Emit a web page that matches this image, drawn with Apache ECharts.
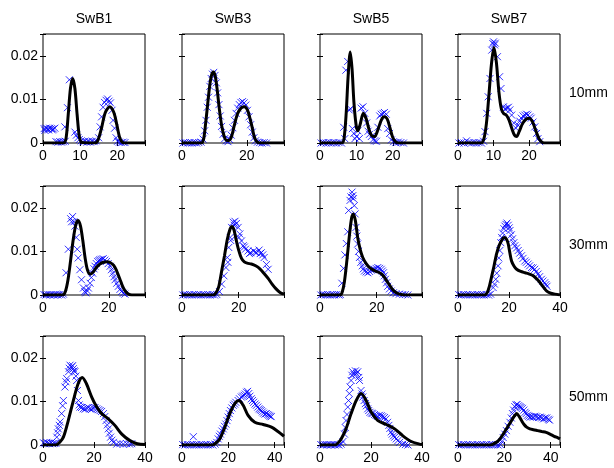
<!DOCTYPE html>
<html><head><meta charset="utf-8">
<script src="https://cdn.jsdelivr.net/npm/echarts@6/dist/echarts.min.js"></script>
<style>html,body{margin:0;padding:0;background:#fff}#c{width:614px;height:468px}</style>
</head><body><div id="c"></div>
<script>
// ---- categories / ticks ----
const columns = ['SwB1', 'SwB3', 'SwB5', 'SwB7'];
const rows = ['10mm', '30mm', '50mm'];
const yMax = 0.025, yStep = 0.01;
const xMax = [[27.5, 31.5, 28, 28.7], [31, 36, 36, 40], [40, 44, 40, 44]];
const xStep = [[10, 20, 10, 10], [20, 20, 20, 20], [20, 20, 20, 20]];

// ---- 10mm ----
const fit_10_B1 = [[0,0],[5.5,0],[6.2,0.001],[6.8,0.0065],[7.4,0.0125],[8.0,0.0148],[8.6,0.0125],[9.2,0.0065],[9.8,0.0015],[10.5,0.0001],[14,0],[14.8,0.0006],[15.8,0.0035],[16.8,0.007],[18,0.0083],[19.1,0.007],[19.9,0.0042],[20.7,0.0012],[21.5,0.0001],[22.5,0],[27.5,0]];
const obs_10_B1 = [[0.3,0.0033],[0.8,0.0034],[1.3,0.0032],[1.8,0.0034],[2.3,0.0033],[2.8,0.0032],[3.2,0.0034],[0.5,0.0029],[1.5,0.003],[2.5,0.003],[3.5,0.0003],[4,0.0002],[4.5,0.0003],[5,0.0002],[5.5,0.0003],[6,0.0004],[5.9,0.0037],[6.6,0.0081],[7.1,0.0145],[8.6,0.0025],[9.0,0.0018],[9.4,0.0012],[9.8,0.0008],[10.3,0.0005],[10.8,0.0003],[11.3,0.0004],[11.8,0.0002],[12.3,0.0003],[12.8,0.0002],[13.3,0.0004],[13.8,0.0003],[14.3,0.0005],[15.0,0.0012],[15.4,0.0037],[15.8,0.006],[16.2,0.0082],[16.6,0.0093],[17.0,0.0098],[17.4,0.0101],[17.8,0.0096],[18.2,0.0092],[18.6,0.0075],[18.9,0.0052],[19.3,0.0034],[19.7,0.0012],[20.1,0.0004],[20.6,0.0002],[21.1,0.0001],[21.6,0.0002],[22.1,0.0001]];

const fit_10_B3 = [[0,0],[6,0],[6.7,0.001],[7.3,0.0045],[7.8,0.008],[8.5,0.0128],[9.1,0.0155],[9.7,0.0163],[10.3,0.0152],[10.9,0.012],[11.5,0.008],[12.2,0.0042],[13,0.0016],[13.8,0.0006],[14.5,0.0006],[15.3,0.0015],[16.2,0.0042],[17.1,0.0066],[18.2,0.008],[19.2,0.0083],[20.2,0.0076],[21.0,0.0056],[21.6,0.0038],[22.3,0.0015],[23,0.0004],[24,0],[31.5,0]];
const obs_10_B3 = [[0.3,0],[1,0.0001],[1.7,0],[2.4,0.0001],[3.1,0],[3.8,0.0001],[4.5,0],[5.2,0.0001],[5.9,0.0002],[6.5,0.0009],[7.0,0.0028],[7.4,0.0052],[7.8,0.0082],[8.2,0.0105],[8.6,0.013],[9.0,0.0148],[9.4,0.0158],[9.8,0.0162],[10.2,0.0155],[10.6,0.0138],[11.0,0.0115],[11.4,0.0088],[11.8,0.0062],[12.2,0.0038],[12.7,0.002],[13.2,0.001],[13.7,0.0005],[14.2,0.0003],[14.7,0.0008],[15.2,0.0018],[15.7,0.0035],[16.2,0.0052],[16.7,0.0068],[17.2,0.008],[17.7,0.0088],[18.2,0.0093],[18.7,0.0095],[19.2,0.0092],[19.7,0.0087],[20.2,0.0075],[20.7,0.006],[21.2,0.0042],[21.7,0.0025],[22.2,0.0012],[22.7,0.0005],[23.3,0.0002],[24,0.0001],[24.7,0],[25.4,0.0001],[26.1,0]];

const fit_10_B5 = [[0,0],[6,0],[6.6,0.001],[7.2,0.007],[7.7,0.015],[8.3,0.0209],[8.8,0.017],[9.3,0.0095],[9.9,0.0042],[10.4,0.0028],[11.0,0.0042],[11.9,0.0068],[12.7,0.0055],[13.5,0.003],[14.3,0.0016],[15.0,0.0015],[15.8,0.0028],[16.8,0.0052],[17.6,0.006],[18.4,0.0056],[19.2,0.0035],[20.0,0.0012],[20.8,0.0002],[21.5,0],[28,0]];
const obs_10_B5 = [[0.3,0],[1,0.0001],[1.7,0],[2.4,0.0001],[3.1,0],[3.8,0.0001],[4.5,0],[5.2,0.0001],[5.9,0],[6.5,0.0036],[6.8,0.001],[7.1,0.0167],[7.6,0.0187],[8.0,0.0076],[8.4,0.0078],[8.9,0.0033],[9.3,0.0022],[9.6,0.001],[10.0,0.0015],[10.4,0.0028],[10.8,0.001],[11.3,0.008],[11.8,0.0083],[12.3,0.0068],[12.8,0.0046],[13.2,0.0027],[13.6,0.002],[14.1,0.0015],[14.6,0.0008],[15.0,0.0005],[15.5,0.0004],[15.9,0.0036],[16.4,0.0062],[16.8,0.0066],[17.3,0.0068],[17.7,0.007],[18.2,0.0066],[18.6,0.0033],[19.1,0.0022],[19.6,0.0007],[20.2,0.0003],[20.8,0.0001],[21.5,0.0002],[22.2,0.0001],[22.9,0]];

const fit_10_B7 = [[0,0],[6.5,0],[7.3,0.001],[8.0,0.0045],[8.7,0.011],[9.4,0.018],[10.1,0.0219],[10.8,0.0185],[11.5,0.0118],[12.2,0.0078],[12.9,0.0067],[13.6,0.0064],[14.4,0.0052],[15.2,0.0032],[15.9,0.0018],[16.5,0.0015],[17.2,0.0026],[18.2,0.0045],[19.2,0.0055],[20.1,0.0057],[21.0,0.0048],[21.9,0.0028],[22.8,0.001],[23.8,0.0001],[25,0],[28.7,0]];
const obs_10_B7 = [[0.3,0],[1,0.0001],[1.7,0],[2.4,0.0005],[3.1,0.0001],[3.8,0],[4.5,0.0001],[5.2,0],[5.9,0.0001],[6.6,0],[7.2,0.0004],[7.6,0.0026],[8.1,0.0068],[8.5,0.0106],[9.0,0.0148],[9.5,0.0213],[9.8,0.0228],[10.0,0.0232],[10.3,0.0225],[10.5,0.0229],[11.1,0.0198],[11.7,0.0152],[12.1,0.0125],[12.8,0.0083],[13.2,0.0078],[13.7,0.008],[14.2,0.0082],[14.6,0.0076],[15.1,0.0064],[15.7,0.0046],[16.3,0.0034],[16.9,0.0041],[17.4,0.005],[17.8,0.0057],[18.3,0.0062],[18.8,0.0064],[19.3,0.0066],[19.7,0.0064],[20.2,0.006],[20.6,0.0057],[21.1,0.0048],[21.6,0.0037],[22.1,0.0022],[22.5,0.001],[23,0.0003]];

// ---- 30mm ----
const fit_30_B1 = [[0,0],[6,0],[6.8,0.0008],[7.6,0.0035],[8.4,0.008],[9.2,0.0128],[10,0.0162],[10.7,0.0171],[11.4,0.0158],[12.1,0.0125],[12.8,0.0085],[13.5,0.0058],[14.3,0.0048],[15.2,0.0052],[16.2,0.0063],[17.3,0.0071],[18.4,0.0075],[19.4,0.0076],[20.5,0.0074],[21.5,0.0068],[22.4,0.0055],[23.3,0.0038],[24.2,0.002],[25.1,0.0008],[26,0.0002],[27,0],[31,0]];
const obs_30_B1 = [[0.3,0.0001],[0.9,0],[1.5,0.0001],[2.1,0],[2.7,0.0001],[3.3,0],[3.9,0.0001],[4.5,0],[5.1,0.0001],[5.7,0],[6.2,0.0002],[7.0,0.0051],[7.7,0.0105],[8.4,0.0175],[8.7,0.0168],[9.0,0.018],[9.4,0.0168],[9.7,0.0158],[10.1,0.0132],[10.4,0.0105],[10.7,0.0085],[11.2,0.0058],[11.7,0.0035],[12.3,0.0016],[12.7,0.0008],[13.0,0.0005],[13.4,0.001],[13.8,0.0016],[14.3,0.0027],[14.7,0.004],[15.1,0.005],[15.5,0.006],[15.8,0.0066],[16.2,0.0072],[16.6,0.0077],[17.0,0.0079],[17.3,0.0081],[17.8,0.0082],[18.3,0.0083],[18.8,0.008],[19.3,0.0077],[19.8,0.0072],[20.4,0.0066],[20.8,0.0058],[21.2,0.005],[21.6,0.0042],[21.9,0.0035],[22.4,0.0027],[22.9,0.002],[23.4,0.0013],[23.9,0.0008],[24.4,0.0004],[24.9,0.0002]];

const fit_30_B3 = [[0,0],[11,0],[12,0.0005],[13,0.002],[14,0.0055],[15,0.009],[16,0.0128],[17,0.0152],[17.6,0.0157],[18.3,0.015],[19,0.013],[20,0.0103],[21,0.0084],[22,0.0076],[23,0.0073],[24.5,0.0071],[26,0.0067],[27.5,0.006],[29,0.0049],[30.4,0.0038],[31.8,0.0025],[33.2,0.0014],[34.6,0.0006],[36,0.0002]];
const obs_30_B3 = [[0.3,0],[1.1,0.0001],[1.9,0],[2.7,0.0001],[3.5,0],[4.3,0.0001],[5.1,0],[5.9,0.0001],[6.7,0],[7.5,0.0001],[8.3,0],[9.1,0.0001],[9.9,0],[10.7,0.0001],[11.5,0],[12.3,0.0001],[13.2,0.0008],[14,0.0025],[14.8,0.0044],[15.5,0.0063],[16.0,0.0086],[16.2,0.0075],[16.5,0.0109],[17,0.0132],[17.2,0.0125],[17.5,0.0155],[18.1,0.0167],[18.4,0.016],[18.7,0.0169],[19.2,0.0164],[19.8,0.0155],[20.1,0.0132],[20.4,0.014],[21.0,0.0124],[21.6,0.0113],[22,0.011],[22.4,0.0105],[23.3,0.0101],[23.8,0.0095],[24.3,0.0097],[25.3,0.0101],[25.8,0.0098],[26.3,0.0097],[27.2,0.0103],[27.6,0.0095],[28,0.0097],[28.5,0.0092],[29,0.0086],[29.8,0.007],[30.4,0.0059]];

const fit_30_B5 = [[0,0],[7,0],[7.8,0.0006],[8.6,0.003],[9.5,0.008],[10.4,0.0138],[11.2,0.0178],[11.8,0.0186],[12.5,0.017],[13.3,0.0132],[14.2,0.0104],[15.1,0.0086],[16.3,0.0072],[17.5,0.0063],[19.2,0.0056],[21,0.0051],[22.2,0.0045],[23.4,0.0034],[24.6,0.0022],[25.7,0.0012],[26.9,0.0005],[28.1,0.0002],[30,0],[36,0]];
const obs_30_B5 = [[0.3,0],[1.1,0.0001],[1.9,0],[2.7,0.0001],[3.5,0],[4.3,0.0001],[5.1,0],[5.9,0.0001],[6.7,0],[7.2,0.0001],[7.7,0.0027],[8.3,0.0061],[8.8,0.0092],[9.3,0.0118],[9.8,0.0145],[10.1,0.0194],[10.6,0.0217],[10.9,0.0225],[11.3,0.0236],[11.6,0.0228],[11.8,0.0221],[12.1,0.0205],[12.4,0.0186],[12.7,0.0155],[13.0,0.0135],[13.3,0.0117],[13.6,0.01],[13.9,0.0086],[14.4,0.0075],[14.9,0.0067],[15.3,0.006],[15.7,0.0055],[16.3,0.0053],[16.9,0.0051],[17.5,0.0054],[18.1,0.0057],[18.7,0.0058],[19.2,0.0059],[19.8,0.0061],[20.4,0.0063],[21,0.0061],[21.6,0.0059],[22,0.0055],[22.4,0.0051],[22.7,0.0044],[23.1,0.0036],[23.5,0.0028],[23.9,0.002],[24.5,0.0014],[25.1,0.0009],[25.9,0.0005],[26.8,0.0003],[28,0.0002],[29.2,0.0001],[30.1,0.0001],[31,0]];

const fit_30_B7 = [[0,0],[10.5,0],[11.5,0.0006],[12.3,0.002],[13.1,0.004],[14.1,0.0066],[15.1,0.0094],[16.1,0.0113],[17.1,0.0125],[17.8,0.0131],[18.4,0.0132],[19.1,0.0127],[19.7,0.0117],[20.3,0.0098],[21,0.0078],[22,0.0066],[23,0.0059],[24.6,0.0054],[26.3,0.0051],[28,0.0048],[29.5,0.0044],[31,0.0036],[32.2,0.0028],[33.5,0.0018],[34.8,0.0009],[36.4,0.0004],[38,0.0002],[40,0]];
const obs_30_B7 = [[0.3,0.0001],[1.2,0],[2.1,0.0001],[3,0],[3.9,0.0001],[4.8,0],[5.7,0.0001],[6.6,0],[7.5,0.0001],[8.4,0],[9.3,0.0001],[10.2,0],[11.1,0.0001],[12,0],[12.8,0.0002],[13.8,0.0017],[14.3,0.0025],[14.8,0.0036],[15.2,0.005],[15.7,0.0067],[16.0,0.0085],[16.4,0.0102],[16.8,0.012],[17.1,0.0132],[17.5,0.0142],[18,0.0152],[18.4,0.0158],[18.8,0.0162],[19.2,0.0165],[19.7,0.016],[20.1,0.0154],[20.4,0.0148],[20.9,0.0138],[21.4,0.0129],[21.9,0.012],[22.3,0.0113],[23,0.0108],[23.6,0.0102],[24.2,0.0096],[24.9,0.009],[25.5,0.0084],[26.2,0.0078],[26.8,0.0075],[27.5,0.0071],[28.1,0.0067],[28.8,0.0063],[29.4,0.0062],[30.1,0.0059],[30.7,0.0054],[31.4,0.0048],[32.0,0.0042],[32.7,0.0036],[33.3,0.0032],[34,0.0028],[34.5,0.0024],[34.9,0.002]];

// ---- 50mm ----
const fit_50_B1 = [[0,0],[5,0],[6.5,0.0006],[8,0.0018],[9.9,0.0056],[11.9,0.0102],[13.8,0.0141],[15.4,0.0155],[17,0.0141],[19.1,0.011],[21.1,0.0087],[23,0.0072],[25.6,0.006],[28.2,0.0045],[30.9,0.0025],[34.1,0.001],[37,0.0003],[40,0.0001]];
const obs_50_B1 = [[0.2,0.0005],[0.8,0.0003],[1.4,0.0006],[2,0.0004],[2.6,0.0003],[3.2,0.0005],[3.8,0.0003],[4.4,0.0004],[5,0.0004],[5.4,0.0018],[5.7,0.0028],[6,0.0037],[6.4,0.0045],[6.7,0.0053],[7.3,0.0072],[7.7,0.009],[8.0,0.0102],[8.6,0.0133],[9.0,0.0145],[9.3,0.0152],[10.0,0.0168],[10.3,0.0176],[10.6,0.0183],[11.2,0.0179],[11.6,0.0182],[11.9,0.0175],[12.2,0.017],[12.5,0.0168],[12.9,0.0158],[13.2,0.0148],[13.5,0.0125],[13.9,0.0102],[14.2,0.0092],[14.5,0.0087],[15.1,0.0086],[15.8,0.0083],[16.5,0.0082],[17.1,0.0085],[17.8,0.0086],[18.4,0.0083],[19.1,0.0082],[19.7,0.0085],[20.4,0.0086],[21.1,0.0083],[21.8,0.0081],[22.4,0.0079],[23,0.0077],[23.7,0.0072],[24.2,0.0065],[24.7,0.0056],[25.2,0.0046],[25.6,0.0037],[26,0.0027],[26.5,0.0018],[27,0.0011],[27.6,0.0006],[28.9,0.0002],[30.2,0.0003],[31.5,0.0002],[32.8,0.0003],[34,0.0002],[34.8,0.0003]];

const fit_50_B3 = [[0,0],[13,0],[14.5,0.0004],[16.3,0.0014],[18.5,0.0041],[20.6,0.0072],[22.8,0.0095],[24.6,0.0102],[26.4,0.0091],[28.5,0.0068],[31.4,0.0052],[35,0.0047],[38.6,0.0041],[41.4,0.0031],[44,0.002]];
const obs_50_B3 = [[0.3,0.0001],[1.3,0],[2.3,0.0001],[3.3,0],[4.3,0.0001],[4.9,0.0019],[5.3,0],[6.3,0.0001],[7.3,0],[8.3,0.0001],[9.3,0],[10.3,0.0001],[11.3,0],[12.3,0.0001],[13.3,0],[14.3,0.0002],[15,0.0006],[15.6,0.0014],[16.1,0.002],[16.6,0.0025],[17.2,0.0032],[17.8,0.0037],[18.3,0.0043],[18.9,0.0048],[19.4,0.0056],[19.9,0.0064],[20.4,0.0072],[20.9,0.0079],[21.5,0.0085],[22.1,0.0091],[22.7,0.0094],[23.2,0.0098],[24.2,0.0102],[24.8,0.0106],[25.6,0.011],[26.2,0.0112],[26.8,0.0114],[27.3,0.0117],[27.8,0.0121],[28.3,0.0123],[28.8,0.0118],[29.3,0.0112],[29.9,0.0106],[30.4,0.0102],[30.9,0.0098],[31.5,0.0094],[32.1,0.0091],[32.7,0.0087],[33.2,0.0083],[33.7,0.0081],[34.2,0.0079],[34.7,0.0076],[35.2,0.0073],[35.8,0.0071],[36.4,0.0072],[37,0.007],[37.5,0.0068],[38,0.0066],[38.5,0.0065]];

const fit_50_B5 = [[0,0],[6,0],[7,0.0004],[8.3,0.0014],[10.2,0.0037],[12.2,0.0072],[14.2,0.0102],[16.1,0.0118],[18.1,0.0102],[20.1,0.0075],[22.7,0.0056],[26,0.0047],[29.3,0.0037],[32.5,0.0021],[35.8,0.0008],[39,0.0002],[40,0.0001]];
const obs_50_B5 = [[0.3,0.0001],[1.1,0],[1.9,0.0001],[2.7,0],[3.5,0.0001],[4.3,0],[5.1,0.0001],[5.9,0],[6.7,0.0001],[7.5,0],[8.3,0.0002],[9,0.0008],[9.6,0.0025],[9.9,0.004],[10.2,0.0056],[10.6,0.007],[10.9,0.0087],[11.2,0.0102],[11.5,0.0118],[11.8,0.0133],[12.2,0.0148],[12.5,0.016],[12.8,0.0168],[13.3,0.0162],[13.9,0.017],[14.3,0.0164],[14.8,0.0168],[15.2,0.0155],[15.5,0.0148],[16.1,0.0125],[16.5,0.0117],[16.8,0.011],[17.3,0.0102],[17.8,0.0095],[18.2,0.009],[18.7,0.0083],[19.1,0.0079],[19.6,0.0075],[20.2,0.0073],[20.7,0.0072],[21.4,0.007],[22,0.0068],[22.6,0.0066],[23.3,0.0068],[24,0.0067],[24.6,0.0065],[25.3,0.0063],[25.9,0.006],[26.5,0.0052],[27,0.0045],[27.4,0.0038],[27.9,0.003],[28.3,0.0025],[28.8,0.0021],[29.3,0.0018],[29.9,0.0014],[30.5,0.001],[31.2,0.0006],[32.5,0.0002],[33.5,0.0001],[34.5,0]];

const fit_50_B7 = [[0,0],[14,0],[15.5,0.0003],[17,0.0008],[18.1,0.0014],[19.5,0.0025],[20.9,0.0037],[23.1,0.0056],[24.3,0.0066],[25.3,0.0072],[26.3,0.0066],[27.4,0.0056],[28.5,0.0047],[29.6,0.0041],[31,0.0037],[32.5,0.0035],[34.3,0.0033],[36.1,0.0031],[38,0.0029],[39.7,0.0025],[41.5,0.002],[43.3,0.0016],[44,0.0014]];
const obs_50_B7 = [[0.3,0.0001],[1.3,0],[2.3,0.0001],[3.3,0],[4.3,0.0001],[5.3,0],[6.3,0.0001],[7.3,0],[8.3,0.0001],[9.3,0],[10.3,0.0001],[11.3,0],[12.3,0.0001],[13.3,0],[14.3,0.0001],[15.3,0],[16.3,0.0001],[17.3,0],[18.3,0.0001],[18.9,0.0008],[19.5,0.0017],[20.2,0.0025],[20.9,0.0033],[21.6,0.0043],[22.4,0.0052],[23,0.0062],[23.5,0.0072],[24,0.008],[24.5,0.0088],[25,0.0092],[25.5,0.0093],[26.1,0.009],[26.7,0.0088],[27.2,0.0086],[27.8,0.0084],[28.4,0.008],[28.9,0.0075],[29.4,0.0072],[29.9,0.0068],[30.5,0.0066],[31.1,0.0064],[31.8,0.0065],[32.5,0.0064],[33.2,0.0066],[34,0.0065],[34.7,0.0063],[35.4,0.0064],[36.1,0.0062],[36.9,0.006],[37.6,0.0062],[38.3,0.0062],[39,0.0059],[39.5,0.0057]];

const fits = [[fit_10_B1, fit_10_B3, fit_10_B5, fit_10_B7],[fit_30_B1, fit_30_B3, fit_30_B5, fit_30_B7],[fit_50_B1, fit_50_B3, fit_50_B5, fit_50_B7]];
const obs = [[obs_10_B1, obs_10_B3, obs_10_B5, obs_10_B7],[obs_30_B1, obs_30_B3, obs_30_B5, obs_30_B7],[obs_50_B1, obs_50_B3, obs_50_B5, obs_50_B7]];

// ---- layout ----
const LEFTS = [43, 182, 320, 458];
const TOPS = [34, 186, 336];
const W = 102, H = 109;
const FONT = 'Liberation Sans';

function fmt(step) {
  return function (v) {
    const r = v / step;
    if (Math.abs(r - Math.round(r)) > 1e-6) return '';
    return String(+v.toFixed(4));
  };
}

const grid = [], xAxis = [], yAxis = [], series = [], graphic = [];
const tick = { inside: true, length: 3, lineStyle: { color: '#000', width: 1 } };
rows.forEach(function (rname, r) {
  columns.forEach(function (cname, c) {
    const gi = grid.length;
    grid.push({ left: LEFTS[c], top: TOPS[r], width: W, height: H, show: true, borderColor: '#000', borderWidth: 1, backgroundColor: '#fff' });
    const xb = xAxis.length;
    xAxis.push({ gridIndex: gi, type: 'value', min: 0, max: xMax[r][c], interval: xStep[r][c], position: 'bottom',
      axisLine: { show: false }, splitLine: { show: false }, axisTick: tick,
      axisLabel: { show: true, margin: 6, color: '#000', fontFamily: FONT, fontSize: 14, formatter: fmt(xStep[r][c]), showMaxLabel: true, showMinLabel: true } });
    xAxis.push({ gridIndex: gi, type: 'value', min: 0, max: xMax[r][c], interval: xStep[r][c], position: 'top',
      axisLine: { show: false }, splitLine: { show: false }, axisTick: tick, axisLabel: { show: false } });
    const yb = yAxis.length;
    yAxis.push({ gridIndex: gi, type: 'value', min: 0, max: yMax, interval: yStep, position: 'left',
      axisLine: { show: false }, splitLine: { show: false }, axisTick: tick,
      axisLabel: { show: c === 0, margin: 5, color: '#000', fontFamily: FONT, fontSize: 14, formatter: fmt(yStep) } });
    yAxis.push({ gridIndex: gi, type: 'value', min: 0, max: yMax, interval: yStep, position: 'right',
      axisLine: { show: false }, splitLine: { show: false }, axisTick: tick, axisLabel: { show: false } });
    series.push({ type: 'scatter', xAxisIndex: xb, yAxisIndex: yb, data: obs[r][c],
      symbol: 'path://M0,0L10,10M10,0L0,10', symbolSize: 7,
      itemStyle: { color: 'rgba(0,0,0,0)', borderColor: '#0000ff', borderWidth: 1 }, z: 2 });
    series.push({ type: 'line', xAxisIndex: xb, yAxisIndex: yb, data: fits[r][c], showSymbol: false, symbol: 'none',
      smooth: 0.3, lineStyle: { color: '#000', width: 3 }, z: 3, clip: true });
  });
});
columns.forEach(function (cname, c) {
  graphic.push({ type: 'text', x: LEFTS[c] + W / 2, y: 19, style: { text: cname, textAlign: 'center', textVerticalAlign: 'middle', font: '14px "' + FONT + '"', fill: '#000' } });
});
const rowLabelY = [93, 245, 397];
rows.forEach(function (rname, r) {
  graphic.push({ type: 'text', x: 569, y: rowLabelY[r], style: { text: rname, textAlign: 'left', textVerticalAlign: 'middle', font: '14px "' + FONT + '"', fill: '#000' } });
});

const chart = echarts.init(document.getElementById('c'), null, { renderer: 'canvas' });
chart.setOption({ animation: false, backgroundColor: '#fff', grid: grid, xAxis: xAxis, yAxis: yAxis, series: series, graphic: graphic });
</script></body></html>
